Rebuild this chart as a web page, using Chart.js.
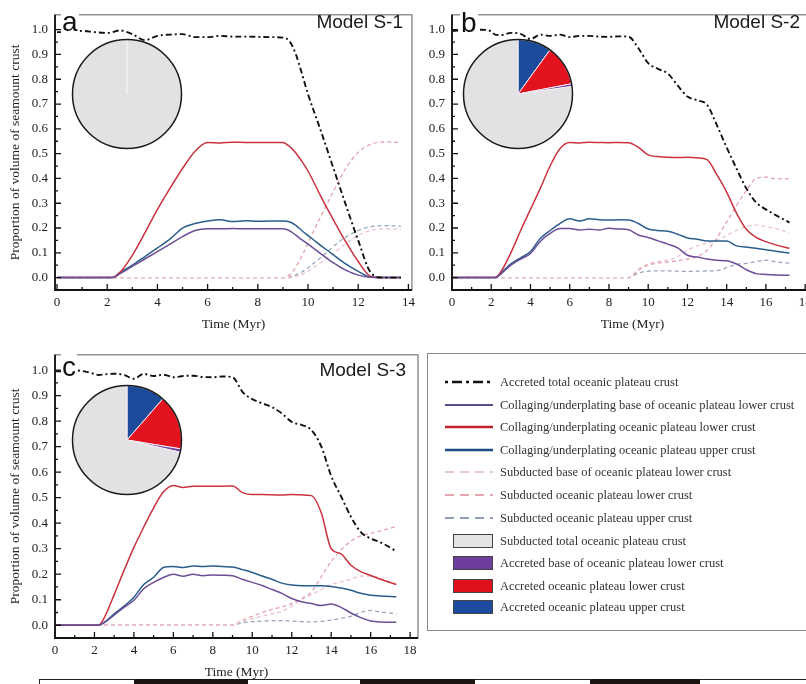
<!DOCTYPE html>
<html>
<head>
<meta charset="utf-8">
<script src="https://cdn.jsdelivr.net/npm/chart.js@4.4.1/dist/chart.umd.min.js"></script>
<style>
  html, body { margin:0; padding:0; background:#fff; }
  body { width:806px; height:684px; position:relative; overflow:hidden; font-family:"Liberation Serif", serif; }
  canvas { position:absolute; }
  .tag { position:absolute; font-family:"Liberation Sans", Arial, sans-serif; font-size:28px; line-height:28px; color:#111; background:#fff; padding:0 1px; }
  .model { position:absolute; font-family:"Liberation Sans", Arial, sans-serif; font-size:19px; line-height:19px; color:#1a1a1a; white-space:nowrap; }
  #legend { position:absolute; left:427px; top:353px; width:420px; height:276px; border:1px solid #8a8a8a; }
  .row { position:absolute; left:445px; height:16px; font-size:12.5px; line-height:16px; color:#333; white-space:nowrap; }
  .row svg { position:absolute; top:0; }
  .row .txt { position:absolute; left:55px; top:0; }
  .strip { position:absolute; top:679px; height:6px; }
</style>
</head>
<body>
<canvas id="chartA" width="420" height="340" style="left:0;top:0"></canvas>
<canvas id="chartB" width="430" height="340" style="left:400px;top:0"></canvas>
<canvas id="chartC" width="430" height="344" style="left:0;top:340px"></canvas>
<canvas id="pieA" width="114" height="114" style="left:70px;top:37px"></canvas>
<canvas id="pieB" width="114" height="114" style="left:461px;top:37px"></canvas>
<canvas id="pieC" width="114" height="114" style="left:70px;top:383px"></canvas>

<div class="tag" style="left:61px;top:8px">a</div>
<div class="tag" style="left:460px;top:9px">b</div>
<div class="tag" style="left:61px;top:353px">c</div>
<div class="model" style="right:403px;top:12px">Model S-1</div>
<div class="model" style="right:6px;top:12px">Model S-2</div>
<div class="model" style="right:400px;top:360px">Model S-3</div>

<div id="legend"></div>
<div id="legendRows"></div>

<div class="strip" style="left:39px;width:780px;border-top:1px solid #222;border-left:1px solid #222"></div>
<div class="strip" style="left:134px;width:114px;background:#1b1410"></div>
<div class="strip" style="left:360px;width:115px;background:#1b1410"></div>
<div class="strip" style="left:590px;width:110px;background:#1b1410"></div>

<script>
// tick labels
const yTicks = [0.0, 0.1, 0.2, 0.3, 0.4, 0.5, 0.6, 0.7, 0.8, 0.9, 1.0];
const xTicksA = [0, 2, 4, 6, 8, 10, 12, 14];
const xTicksBC = [0, 2, 4, 6, 8, 10, 12, 14, 16, 18];

// Model S-1 (panel a)
const timeA = [0, 0.5, 1, 1.5, 2, 2.2, 2.5, 3, 3.5, 4, 4.5, 5, 5.5, 6, 6.5, 7, 7.5, 8, 8.5, 9, 9.25, 9.5, 9.75, 10, 10.5, 11, 11.5, 12, 12.5, 13, 13.7];
const accretedA = [0.99, 0.99, 0.995, 0.99, 0.987, 0.99, 0.997, 0.982, 0.958, 0.975, 0.98, 0.982, 0.97, 0.97, 0.975, 0.972, 0.972, 0.971, 0.97, 0.968, 0.955, 0.905, 0.825, 0.74, 0.595, 0.445, 0.295, 0.15, 0.02, 0, 0];
const baseA = [0, 0, 0, 0, 0, 0, 0.015, 0.045, 0.075, 0.105, 0.135, 0.165, 0.19, 0.197, 0.197, 0.198, 0.197, 0.197, 0.197, 0.197, 0.19, 0.172, 0.153, 0.135, 0.097, 0.06, 0.03, 0.01, 0.001, 0, 0];
const lowerA = [0, 0, 0, 0, 0, 0, 0.02, 0.09, 0.18, 0.275, 0.36, 0.44, 0.51, 0.545, 0.543, 0.546, 0.545, 0.545, 0.545, 0.545, 0.53, 0.505, 0.47, 0.43, 0.33, 0.235, 0.145, 0.065, 0.005, 0, 0];
const upperA = [0, 0, 0, 0, 0, 0, 0.02, 0.05, 0.085, 0.12, 0.155, 0.2, 0.218, 0.228, 0.233, 0.226, 0.229, 0.227, 0.228, 0.228, 0.225, 0.212, 0.19, 0.17, 0.13, 0.093, 0.055, 0.025, 0.002, 0, 0];
const subBaseA = [0, 0, 0, 0, 0, 0, 0, 0, 0, 0, 0, 0, 0, 0, 0, 0, 0, 0, 0, 0, 0, 0.004, 0.012, 0.026, 0.06, 0.097, 0.137, 0.17, 0.19, 0.196, 0.195];
const subLowerA = [0, 0, 0, 0, 0, 0, 0, 0, 0, 0, 0, 0, 0, 0, 0, 0, 0, 0, 0, 0, 0.01, 0.04, 0.085, 0.14, 0.245, 0.345, 0.44, 0.505, 0.538, 0.547, 0.545];
const subUpperA = [0, 0, 0, 0, 0, 0, 0, 0, 0, 0, 0, 0, 0, 0, 0, 0, 0, 0, 0, 0, 0.002, 0.01, 0.022, 0.04, 0.08, 0.125, 0.163, 0.19, 0.205, 0.21, 0.207];

// Model S-2 (panel b)
const timeB = [0, 0.5, 1, 1.5, 2, 2.2, 2.5, 3, 3.5, 4, 4.5, 5, 5.5, 6, 6.5, 7, 7.5, 8, 8.5, 9, 9.5, 10, 10.5, 11, 11.5, 12, 12.5, 13, 13.5, 14, 14.5, 15, 15.5, 16, 16.5, 17.2];
const accretedB = [0.995, 0.997, 0.998, 1.0, 0.993, 0.98, 0.978, 0.987, 0.983, 0.962, 0.98, 0.975, 0.98, 0.97, 0.975, 0.975, 0.972, 0.971, 0.973, 0.972, 0.925, 0.865, 0.842, 0.823, 0.775, 0.73, 0.715, 0.697, 0.615, 0.525, 0.44, 0.36, 0.303, 0.275, 0.252, 0.222];
const baseB = [0, 0, 0, 0, 0, 0, 0.015, 0.05, 0.075, 0.097, 0.146, 0.178, 0.198, 0.198, 0.192, 0.195, 0.192, 0.199, 0.196, 0.193, 0.172, 0.162, 0.148, 0.135, 0.12, 0.09, 0.083, 0.075, 0.07, 0.068, 0.055, 0.032, 0.016, 0.013, 0.011, 0.009];
const lowerB = [0, 0, 0, 0, 0, 0, 0.025, 0.1, 0.19, 0.275, 0.36, 0.45, 0.52, 0.545, 0.543, 0.546, 0.545, 0.544, 0.545, 0.544, 0.525, 0.495, 0.488, 0.485, 0.484, 0.485, 0.483, 0.476, 0.415, 0.345, 0.26, 0.195, 0.162, 0.145, 0.132, 0.118];
const upperB = [0, 0, 0, 0, 0, 0, 0.02, 0.055, 0.08, 0.105, 0.158, 0.19, 0.218, 0.237, 0.228, 0.237, 0.233, 0.232, 0.233, 0.232, 0.218, 0.196, 0.19, 0.187, 0.175, 0.16, 0.155, 0.148, 0.148, 0.148, 0.128, 0.123, 0.118, 0.112, 0.106, 0.099];
const subBaseB = [0, 0, 0, 0, 0, 0, 0, 0, 0, 0, 0, 0, 0, 0, 0, 0, 0, 0, 0, 0, 0.035, 0.055, 0.065, 0.07, 0.085, 0.11, 0.128, 0.14, 0.15, 0.17, 0.19, 0.205, 0.212, 0.205, 0.198, 0.18];
const subLowerB = [0, 0, 0, 0, 0, 0, 0, 0, 0, 0, 0, 0, 0, 0, 0, 0, 0, 0, 0, 0, 0.03, 0.05, 0.058, 0.063, 0.068, 0.075, 0.085, 0.11, 0.16, 0.225, 0.29, 0.35, 0.4, 0.405, 0.398, 0.398];
const subUpperB = [0, 0, 0, 0, 0, 0, 0, 0, 0, 0, 0, 0, 0, 0, 0, 0, 0, 0, 0, 0, 0.018, 0.026, 0.027, 0.027, 0.026, 0.025, 0.026, 0.027, 0.028, 0.04, 0.053, 0.057, 0.065, 0.07, 0.064, 0.058];

// Model S-3 (panel c)
const timeC = [0, 0.5, 1, 1.5, 2, 2.2, 2.5, 3, 3.5, 4, 4.5, 5, 5.5, 6, 6.5, 7, 7.5, 8, 8.5, 9, 9.5, 10, 10.5, 11, 11.5, 12, 12.5, 13, 13.5, 14, 14.5, 15, 15.5, 16, 16.5, 17.3];
const accretedC = [0.995, 0.996, 0.999, 0.995, 0.985, 0.981, 0.983, 0.986, 0.981, 0.966, 0.985, 0.977, 0.982, 0.972, 0.977, 0.978, 0.973, 0.972, 0.975, 0.972, 0.915, 0.886, 0.87, 0.855, 0.83, 0.797, 0.785, 0.765, 0.7, 0.585, 0.505, 0.425, 0.365, 0.34, 0.325, 0.29];
const baseC = [0, 0, 0, 0, 0, 0, 0.01, 0.04, 0.07, 0.098, 0.143, 0.168, 0.187, 0.2, 0.192, 0.2, 0.194, 0.197, 0.196, 0.194, 0.18, 0.168, 0.156, 0.14, 0.125, 0.105, 0.092, 0.085, 0.077, 0.083, 0.07, 0.048, 0.03, 0.017, 0.013, 0.012];
const lowerC = [0, 0, 0, 0, 0, 0, 0.03, 0.12, 0.215, 0.305, 0.385, 0.46, 0.523, 0.548, 0.54, 0.545, 0.545, 0.545, 0.545, 0.546, 0.52, 0.512, 0.512, 0.511, 0.51, 0.512, 0.511, 0.508, 0.44, 0.3, 0.28, 0.235, 0.21, 0.195, 0.18, 0.16];
const upperC = [0, 0, 0, 0, 0, 0, 0.012, 0.045, 0.075, 0.11, 0.16, 0.188, 0.226, 0.23, 0.226, 0.232, 0.23, 0.232, 0.23, 0.228, 0.218, 0.207, 0.193, 0.18, 0.165, 0.158, 0.155, 0.155, 0.155, 0.152, 0.146, 0.137, 0.125, 0.118, 0.115, 0.112];
const subBaseC = [0, 0, 0, 0, 0, 0, 0, 0, 0, 0, 0, 0, 0, 0, 0, 0, 0, 0, 0, 0, 0.015, 0.025, 0.035, 0.045, 0.055, 0.075, 0.1, 0.12, 0.14, 0.16, 0.17, 0.18, 0.193, 0.193, 0.185, 0.16];
const subLowerC = [0, 0, 0, 0, 0, 0, 0, 0, 0, 0, 0, 0, 0, 0, 0, 0, 0, 0, 0, 0, 0.02, 0.035, 0.05, 0.062, 0.072, 0.085, 0.105, 0.13, 0.19, 0.25, 0.295, 0.33, 0.35, 0.36, 0.37, 0.387];
const subUpperC = [0, 0, 0, 0, 0, 0, 0, 0, 0, 0, 0, 0, 0, 0, 0, 0, 0, 0, 0, 0, 0.01, 0.014, 0.016, 0.018, 0.018, 0.016, 0.014, 0.013, 0.015, 0.02, 0.027, 0.035, 0.05, 0.058, 0.052, 0.045];

// pie insets: upper, lower, base (accreted) and subducted total
const pieA = [0, 0, 0, 1];
const pieB = [0.10, 0.12, 0.008, 0.772];
const pieC = [0.114, 0.162, 0.01, 0.714];

const SERIF = '"Liberation Serif", "Times New Roman", serif';
const pts = (t, v) => t.map((x, i) => ({x: x, y: v[i]}));

// box round the plot and inward tick marks
const frame = {
  id: 'frame',
  afterDraw(chart) {
    const {ctx, chartArea: a, scales: {x, y}} = chart;
    ctx.save();
    ctx.strokeStyle = '#111';
    ctx.lineWidth = 1.3;
    ctx.beginPath();
    for (let v = Math.ceil(x.min); v <= x.max; v++) {
      const px = x.getPixelForValue(v);
      ctx.moveTo(px, a.bottom);
      ctx.lineTo(px, a.bottom - (v % 2 === 0 ? 6 : 3));
    }
    for (let k = 0; k <= 20; k++) {
      const py = y.getPixelForValue(k * 0.05);
      ctx.moveTo(a.left, py);
      ctx.lineTo(a.left + (k % 2 === 0 ? 6 : 3), py);
    }
    ctx.stroke();
    ctx.strokeStyle = '#777';
    ctx.lineWidth = 1.2;
    ctx.strokeRect(a.left, a.top, a.width, a.height);
    ctx.strokeStyle = '#111';
    ctx.lineWidth = 1.8;
    ctx.beginPath();
    ctx.moveTo(a.left, a.top);
    ctx.lineTo(a.left, a.bottom);
    ctx.lineTo(a.right, a.bottom);
    ctx.stroke();
    ctx.restore();
  }
};

function makePanel(id, t, s, o) {
  const ds = [
    {data: pts(t, s.accreted), borderColor: '#111', borderWidth: 1.9, borderDash: [6, 3, 2, 3]},
    {data: pts(t, s.base), borderColor: '#6b4f96', borderWidth: 1.5},
    {data: pts(t, s.lower), borderColor: '#c9323f', borderWidth: 1.5},
    {data: pts(t, s.upper), borderColor: '#2b5d8c', borderWidth: 1.5},
    {data: pts(t, s.subBase), borderColor: '#e9c3cf', borderWidth: 1.3, borderDash: [4, 3]},
    {data: pts(t, s.subLower), borderColor: '#e4a2ab', borderWidth: 1.3, borderDash: [4, 3]},
    {data: pts(t, s.subUpper), borderColor: '#98a6bd', borderWidth: 1.3, borderDash: [4, 3]}
  ];
  ds.forEach(d => { d.pointRadius = 0; d.cubicInterpolationMode = 'monotone'; d.fill = false; });

  return new Chart(document.getElementById(id), {
    type: 'line',
    data: {datasets: ds},
    options: {
      responsive: false,
      animation: false,
      events: [],
      layout: {padding: o.pad},
      plugins: {legend: {display: false}, tooltip: {enabled: false}},
      scales: {
        x: {
          type: 'linear', min: o.xMin, max: o.xMax,
          afterBuildTicks: sc => { sc.ticks = o.xTicks.map(v => ({value: v})); },
          afterFit: sc => { sc.height = o.xHeight; },
          grid: {display: false, drawTicks: false},
          border: {display: false},
          ticks: {font: {family: SERIF, size: 13}, color: '#222', padding: 5, maxRotation: 0, autoSkip: false, callback: v => String(v)},
          title: {display: true, text: 'Time (Myr)', font: {family: SERIF, size: 13.5}, color: '#222', padding: {top: 0, bottom: o.xTitlePad}}
        },
        y: {
          type: 'linear', min: -0.05, max: 1.06,
          afterBuildTicks: sc => { sc.ticks = yTicks.map(v => ({value: v})); },
          afterFit: sc => { sc.width = o.yWidth; },
          grid: {display: false, drawTicks: false},
          border: {display: false},
          ticks: {font: {family: SERIF, size: 13}, color: '#222', padding: 7, autoSkip: false, callback: v => v.toFixed(1)},
          title: {display: o.yTitle, text: 'Proportion of volume of seamount crust', font: {family: SERIF, size: 13.5}, color: '#222', padding: {top: 7.8, bottom: 0}}
        }
      }
    },
    plugins: [frame]
  });
}

makePanel('chartA', timeA,
  {accreted: accretedA, base: baseA, lower: lowerA, upper: upperA, subBase: subBaseA, subLower: subLowerA, subUpper: subUpperA},
  {xMin: -0.08, xMax: 14.14, xTicks: xTicksA, yWidth: 55, xHeight: 50, xTitlePad: 7.8, yTitle: true, pad: {top: 4, right: 8, bottom: 0, left: 0}});
makePanel('chartB', timeB,
  {accreted: accretedB, base: baseB, lower: lowerB, upper: upperB, subBase: subBaseB, subLower: subLowerB, subUpper: subUpperB},
  {xMin: 0, xMax: 18.4, xTicks: xTicksBC, yWidth: 52, xHeight: 50, xTitlePad: 7.8, yTitle: false, pad: {top: 4, right: 17, bottom: 0, left: 0}});
makePanel('chartC', timeC,
  {accreted: accretedC, base: baseC, lower: lowerC, upper: upperC, subBase: subBaseC, subLower: subLowerC, subUpper: subUpperC},
  {xMin: 0, xMax: 18.4, xTicks: xTicksBC, yWidth: 55, xHeight: 46, xTitlePad: 3.8, yTitle: true, pad: {top: 12, right: 12, bottom: 0, left: 0}});

// black rim round each pie
const rim = {
  id: 'rim',
  afterDraw(chart) {
    const arc = chart.getDatasetMeta(0).data[0];
    const ctx = chart.ctx;
    ctx.save();
    ctx.strokeStyle = '#1a1a1a';
    ctx.lineWidth = 1.5;
    ctx.beginPath();
    ctx.arc(arc.x, arc.y, arc.outerRadius, 0, Math.PI * 2);
    ctx.stroke();
    ctx.restore();
  }
};

function makePie(id, values) {
  return new Chart(document.getElementById(id), {
    type: 'pie',
    data: {
      labels: ['Accreted oceanic plateau upper crust', 'Accreted oceanic plateau lower crust', 'Accreted base of oceanic plateau lower crust', 'Subducted total oceanic plateau crust'],
      datasets: [{data: values, backgroundColor: ['#1c4b9c', '#e3121f', '#7040a0', '#e2e2e4'], borderColor: '#f6eef2', borderWidth: 1}]
    },
    options: {
      responsive: false, animation: false, events: [],
      layout: {padding: 2},
      plugins: {legend: {display: false}, tooltip: {enabled: false}}
    },
    plugins: [rim]
  });
}
makePie('pieA', pieA);
makePie('pieB', pieB);
makePie('pieC', pieC);

// legend
const legendRows = [
  {kind: 'line', color: '#111', dash: '3 4 10 4', width: 2.6, text: 'Accreted total oceanic plateau crust'},
  {kind: 'line', color: '#5d4a8e', dash: '', width: 2, text: 'Collaging/underplating base of oceanic plateau lower crust'},
  {kind: 'line', color: '#c0222e', dash: '', width: 2.4, text: 'Collaging/underplating oceanic plateau lower crust'},
  {kind: 'line', color: '#1f4d82', dash: '', width: 2.4, text: 'Collaging/underplating oceanic plateau upper crust'},
  {kind: 'line', color: '#e5c6d2', dash: '9 6', width: 1.8, text: 'Subducted base of oceanic plateau lower crust'},
  {kind: 'line', color: '#e6a6ae', dash: '9 6', width: 1.8, text: 'Subducted oceanic plateau lower crust'},
  {kind: 'line', color: '#8e9cb6', dash: '9 6', width: 1.8, text: 'Subducted oceanic plateau upper crust'},
  {kind: 'box', color: '#e4e4e4', text: 'Subducted total oceanic plateau crust'},
  {kind: 'box', color: '#6e3d9e', text: 'Accreted base of oceanic plateau lower crust'},
  {kind: 'box', color: '#e0101c', text: 'Accreted oceanic plateau lower crust'},
  {kind: 'box', color: '#1b4a9e', text: 'Accreted oceanic plateau upper crust'}
];
const rowY = [382, 405, 427, 450, 472, 495, 518, 541, 563, 586, 607];

let html = '';
legendRows.forEach((r, i) => {
  let sample;
  if (r.kind === 'line') {
    sample = `<svg width="50" height="16"><line x1="0" y1="8" x2="48" y2="8" stroke="${r.color}" stroke-width="${r.width}" stroke-dasharray="${r.dash}"/></svg>`;
  } else {
    sample = `<svg width="50" height="16"><rect x="8.5" y="1.5" width="39" height="13" fill="${r.color}" stroke="#444" stroke-width="1"/></svg>`;
  }
  html += `<div class="row" style="top:${rowY[i] - 8}px">${sample}<span class="txt">${r.text}</span></div>`;
});
document.getElementById('legendRows').innerHTML = html;
</script>
</body>
</html>
